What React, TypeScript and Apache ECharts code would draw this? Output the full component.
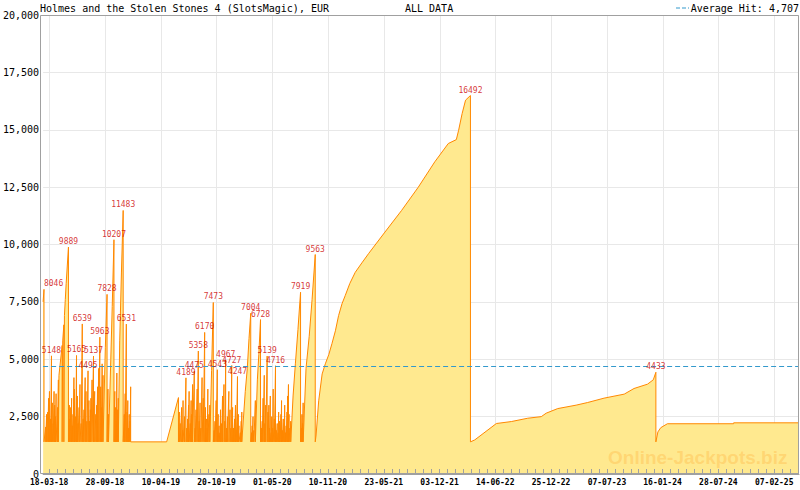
import React, { useEffect, useRef } from "react";
import * as echarts from "echarts";

const TITLE = "Holmes and the Stolen Stones 4 (SlotsMagic), EUR";
const PERIOD = "ALL DATA";
const AVERAGE_HIT = 4707;
const BASE_DATE = Date.UTC(2018, 1, 25); // day 0 of the x axis
const X_MAX_DAY = 2625;
const Y_MAX = 20000;

const xTickLabels = [
  "18-03-18", "28-09-18", "10-04-19", "20-10-19", "01-05-20", "10-11-20", "23-05-21",
  "03-12-21", "14-06-22", "25-12-22", "07-07-23", "16-01-24", "28-07-24", "07-02-25",
];

// jackpot value [day since 2018-02-25, EUR]
const jackpot2018: [number, number][] = [
  [0, 7500], [3, 8046], [3, 1400], [9, 2050], [9, 1400], [12, 2600], [12, 1400], [16, 2700], [16, 1400],
  [19, 3300], [19, 1400], [22, 3600], [22, 1400], [26, 2400], [26, 1400], [29, 5148], [29, 1400],
  [32, 3100], [32, 1400], [35, 2200], [35, 1400], [38, 3600], [38, 1400], [40, 3000], [40, 1400],
  [43, 2500], [43, 1400], [45, 3500], [45, 1400], [50, 2900], [50, 1400], [53, 4100], [53, 1400],
  [55, 4300], [66, 5600], [66, 1400], [68, 5800], [72, 6500], [72, 1400], [74, 6900],
  [77, 7600], [80, 8300], [88, 9889], [88, 1400], [91, 3000], [91, 1400], [93, 2400], [93, 1400],
  [96, 2900], [96, 1400], [99, 3300], [99, 1400],
  [101, 2100], [101, 1400], [104, 2600], [104, 1400], [107, 4200], [107, 1400], [109, 3700], [109, 1400],
  [113, 2500], [113, 1400], [116, 5165], [116, 1400], [119, 3400], [119, 1400], [121, 2200], [121, 1400],
  [125, 2900], [125, 1400], [128, 3900], [128, 1400], [132, 2200], [132, 1400], [136, 6539], [136, 1400],
  [139, 2400], [139, 1400], [142, 2800], [142, 1400], [146, 4200], [146, 1400], [149, 3600], [149, 1400],
  [152, 2300], [152, 1400], [156, 4495], [156, 1400], [159, 3200], [159, 1400], [161, 2300], [161, 1400],
  [164, 2800], [164, 1400], [166, 3300], [166, 1400], [170, 4100], [170, 1400], [175, 5137], [175, 1400],
  [179, 3600], [179, 1400], [183, 2600], [183, 1400], [186, 3000], [186, 1400], [189, 3800], [189, 1400],
  [193, 4600], [193, 1400], [197, 5963], [197, 1400], [200, 3800], [200, 1400], [202, 2900], [202, 1400],
  [205, 4800], [205, 1400], [208, 4300], [208, 1400], [216, 5500], [222, 7828], [222, 1400],
  [225, 3700], [225, 1400], [227, 2600], [227, 1400],
  [235, 5000], [240, 7300], [246, 10207], [246, 1400], [249, 3600], [249, 1400], [251, 2900], [251, 1400],
  [254, 2300], [254, 1400], [256, 4400], [256, 1400], [259, 2800], [259, 1400],
  [261, 3300], [261, 1400], [266, 5800], [272, 8800], [278, 11483], [278, 1400], [282, 2600], [282, 1400],
  [285, 3500], [285, 1400], [289, 6531], [289, 1400], [292, 2700], [292, 1400], [294, 3200], [294, 1400],
  [297, 2000], [297, 1400], [299, 2600], [299, 1400], [302, 2300], [302, 1400], [304, 3800], [304, 1400],
];

const jackpot2019: [number, number][] = [
  [429, 1400], [470, 3330], [470, 1400], [473, 2700], [473, 1400], [476, 2200], [476, 1400],
  [481, 2900], [481, 1400], [484, 1900], [484, 1400],
  [486, 3200], [486, 1400], [491, 2500], [491, 1400], [496, 4189], [496, 1400], [499, 2000], [499, 1400],
  [502, 2400], [502, 1400], [505, 3000], [505, 1400],
  [507, 3600], [507, 1400], [511, 2200], [511, 1400], [514, 3200], [514, 1400], [516, 2600], [516, 1400],
  [519, 3900], [519, 1400], [525, 4475], [525, 1400], [528, 2000], [528, 1400],
  [531, 2800], [531, 1400], [535, 3700], [535, 1400], [539, 5358], [539, 1400], [542, 2300], [542, 1400],
  [545, 3100], [545, 1400], [548, 2000], [548, 1400], [552, 4200], [552, 1400], [556, 3300], [556, 1400],
  [561, 6170], [561, 1400], [564, 2900], [564, 1400], [567, 2400], [567, 1400], [570, 2000], [570, 1400],
  [572, 3700], [572, 1400], [576, 2600], [576, 1400], [579, 3000], [579, 1400],
  [585, 4500], [591, 7473], [591, 1400], [594, 1900], [594, 1400], [597, 2300], [597, 1400],
  [601, 3200], [601, 1400], [605, 4543], [605, 1400], [608, 2600], [608, 1400],
  [611, 2100], [611, 1400], [614, 1800], [614, 1400], [616, 2800], [616, 1400], [620, 2200], [620, 1400],
  [623, 3400], [623, 1400], [628, 3900], [628, 1400], [631, 2300], [631, 1400], [634, 4967], [634, 1400],
  [637, 2000], [637, 1400], [640, 2500], [640, 1400], [645, 3600], [645, 1400], [649, 2800], [649, 1400],
  [652, 2000], [652, 1400], [655, 4727], [655, 1400], [658, 2900], [658, 1400], [661, 2000], [661, 1400],
  [665, 2400], [665, 1400], [668, 3000], [668, 1400], [671, 1900], [671, 1400],
  [675, 4247], [675, 1400], [678, 2600], [678, 1400], [680, 2100], [680, 1400], [685, 1800], [685, 1400],
  [688, 2300], [688, 1400], [690, 2700], [690, 1400], [702, 3600], [709, 4600], [715, 5900], [721, 7004], [721, 1400],
  [724, 1800], [724, 1400], [726, 2100], [726, 1400], [729, 2500], [729, 1400],
  [732, 1900], [732, 1400], [737, 3200], [737, 1400], [744, 4100], [749, 5200],
  [755, 6728], [755, 1400], [758, 2000], [758, 1400], [761, 2300], [761, 1400], [764, 3300], [764, 1400],
  [768, 4300], [768, 1400], [770, 2200], [770, 1400], [773, 3000], [773, 1400],
  [778, 5139], [778, 1400], [781, 2700], [781, 1400], [784, 3000], [784, 1400], [786, 2000], [786, 1400],
  [789, 3400], [789, 1400], [792, 1800], [792, 1400], [794, 2500], [794, 1400], [797, 2000], [797, 1400],
  [799, 3700], [799, 1400], [803, 2400], [803, 1400], [807, 4716], [807, 1400], [810, 1900], [810, 1400],
  [813, 2200], [813, 1400], [816, 1800], [816, 1400], [818, 2700], [818, 1400], [821, 2300], [821, 1400],
  [823, 2000], [823, 1400], [826, 2600], [826, 1400], [828, 3200], [828, 1400], [831, 1900], [831, 1400],
  [834, 2400], [834, 1400], [837, 2200], [837, 1400], [839, 3000], [839, 1400], [842, 1800], [842, 1400],
  [844, 2100], [844, 1400], [847, 2700], [847, 1400], [849, 3400], [849, 1400], [852, 3900], [852, 1400],
  [854, 2600], [854, 1400], [857, 2000], [857, 1400], [860, 2300], [860, 1400],
  [868, 3400], [876, 4800], [885, 6300], [894, 7919], [894, 1400], [897, 2000], [897, 1400],
  [899, 2600], [899, 1400], [901, 2200], [901, 1400],
  [903, 3100], [903, 1400], [913, 4600], [924, 6000], [934, 7600], [945, 9563], [945, 1400],
];

const jackpot2021: [number, number][] = [
  [948, 1700], [957, 3190], [969, 4360], [980, 4800], [992, 5200], [1003, 5680], [1015, 6240],
  [1026, 6900], [1038, 7420], [1049, 7770], [1065, 8300], [1084, 8790], [1107, 9200], [1130, 9600],
  [1187, 10540], [1245, 11485], [1303, 12500], [1360, 13600], [1407, 14400], [1435, 14570],
  [1443, 14980], [1455, 15700], [1467, 16290], [1484, 16492], [1484, 1400],
];

const jackpot2022: [number, number][] = [
  [1499, 1485], [1574, 2200], [1626, 2285], [1683, 2430], [1730, 2500], [1747, 2650], [1787, 2850],
  [1851, 3000], [1891, 3115], [1948, 3305], [2018, 3480], [2052, 3725], [2099, 3915], [2119, 4105],
  [2128, 4433], [2128, 1400],
];

const jackpot2024: [number, number][] = [
  [2135, 1834], [2145, 2020], [2168, 2190], [2398, 2190], [2398, 2230], [2625, 2230],
];

const labeledPeaks = [
  8046, 5148, 9889, 5165, 6539, 4495, 5137, 5963, 7828, 10207, 11483, 6531,
  4189, 4475, 5358, 6170, 7473, 4543, 4967, 4727, 4247, 7004, 6728, 5139, 4716, 7919, 9563,
  16492, 4433,
];

const MONO = '"DejaVu Sans Mono", monospace';

function labelDay(s: string): number {
  const [d, m, y] = s.split("-").map(Number);
  return Math.round((Date.UTC(2000 + y, m - 1, d) - BASE_DATE) / 86400000);
}

export default function App() {
  const ref = useRef<HTMLDivElement>(null);

  useEffect(() => {
    document.body.style.margin = "0";
    if (!ref.current) return;
    const chart = echarts.init(ref.current, undefined, { renderer: "svg" });

    const points = [...jackpot2018, ...jackpot2019, ...jackpot2021, ...jackpot2022, ...jackpot2024];
    const labelDays = xTickLabels.map(labelDay);
    const tickDays: number[] = [];
    for (let i = 0; i < labelDays.length - 1; i++) {
      const step = (labelDays[i + 1] - labelDays[i]) / 7;
      for (let k = 0; k < 7; k++) tickDays.push(labelDays[i] + k * step);
    }
    const lastStep = (labelDays[labelDays.length - 1] - labelDays[labelDays.length - 2]) / 7;
    for (let t = labelDays[labelDays.length - 1]; t <= X_MAX_DAY; t += lastStep) tickDays.push(t);

    const peakSet = new Set(labeledPeaks);
    const peakData = points
      .filter((p) => peakSet.has(p[1]))
      .map((p) =>
        p[0] < 15
          ? { value: p, label: { align: "left" as const } }
          : { value: p }
      );

    chart.setOption({
      animation: false,
      grid: { left: 40, right: 1, top: 15, bottom: 16, containLabel: false },
      xAxis: {
        type: "value",
        min: 0,
        max: X_MAX_DAY,
        z: 5,
        axisLine: { show: true, lineStyle: { color: "#a0a0a0", width: 1 } },
        axisTick: {
          show: true,
          inside: true,
          length: 5,
          customValues: tickDays,
          lineStyle: { color: "#a0a0a0", width: 1 },
        },
        axisLabel: {
          show: true,
          customValues: labelDays,
          formatter: (v: number) => {
            const i = labelDays.findIndex((d) => Math.abs(d - v) < 0.01);
            return i >= 0 ? xTickLabels[i] : "";
          },
          fontFamily: MONO,
          fontSize: 8,
          fontWeight: "bold",
          color: "#000",
          margin: 4,
        },
        splitLine: { show: false },
      },
      yAxis: {
        type: "value",
        min: 0,
        max: Y_MAX,
        interval: 2500,
        axisLine: { show: false },
        axisTick: { show: false },
        axisLabel: {
          fontFamily: MONO,
          fontSize: 10,
          color: "#000",
          margin: 4,
          formatter: (v: number) => v.toLocaleString("en-US"),
        },
        splitLine: { show: true, lineStyle: { color: "#e8e8e8", width: 1 } },
      },
      series: [
        {
          type: "custom",
          name: "vgrid",
          data: labelDays.map((d) => [d]),
          encode: { x: 0 },
          z: 1,
          silent: true,
          clip: true,
          renderItem: (_params: any, api: any) => {
            const bottom = api.coord([api.value(0), 0]);
            const top = api.coord([api.value(0), Y_MAX]);
            const x = Math.round(bottom[0]) + 0.5;
            return {
              type: "line",
              shape: { x1: x, y1: top[1], x2: x, y2: bottom[1] },
              style: { stroke: "#e8e8e8", lineWidth: 1 },
            };
          },
        },
        {
          type: "line",
          name: "jackpot",
          data: points,
          z: 2,
          showSymbol: false,
          symbol: "none",
          silent: true,
          lineStyle: { color: "#ff8800", width: 1 },
          areaStyle: { color: "#ffe98f", opacity: 1 },
          markLine: {
            silent: true,
            symbol: ["none", "none"],
            label: { show: false },
            lineStyle: { color: "#3399cc", type: [5, 3], width: 1 },
            data: [{ yAxis: AVERAGE_HIT }],
          },
        },
        {
          type: "scatter",
          name: "peaks",
          data: peakData,
          z: 6,
          symbol: "circle",
          symbolSize: 1,
          silent: true,
          itemStyle: { color: "rgba(0,0,0,0)" },
          label: {
            show: true,
            position: "top",
            distance: 1,
            formatter: (p: any) => String(p.value[1]),
            color: "#cc0000",
            fontFamily: MONO,
            fontSize: 8,
          },
        },
      ],
      graphic: [
        {
          type: "rect",
          z: 50,
          silent: true,
          shape: { x: 40.5, y: 15.5, width: 758, height: 458 },
          style: { fill: "none", stroke: "#a0a0a0", lineWidth: 1 },
        },
        {
          type: "text",
          x: 40,
          y: 8,
          z: 50,
          style: { text: TITLE, font: `10px ${MONO}`, fill: "#000", textVerticalAlign: "middle" },
        },
        {
          type: "text",
          x: 405,
          y: 8,
          z: 50,
          style: { text: PERIOD, font: `10px ${MONO}`, fill: "#000", textVerticalAlign: "middle" },
        },
        {
          type: "line",
          z: 50,
          shape: { x1: 676, y1: 8, x2: 689, y2: 8 },
          style: { stroke: "#3399cc", lineWidth: 1, lineDash: [4, 2] },
        },
        {
          type: "text",
          x: 799,
          y: 8,
          z: 50,
          style: {
            text: `Average Hit: ${AVERAGE_HIT.toLocaleString("en-US")}`,
            font: `10px ${MONO}`,
            fill: "#000",
            textAlign: "right",
            textVerticalAlign: "middle",
          },
        },
        {
          type: "text",
          x: 608,
          y: 457,
          z: 40,
          silent: true,
          style: {
            text: "Online-Jackpots.biz",
            font: 'bold 19px "Liberation Sans", Arial, sans-serif',
            fill: "rgba(255,190,80,0.45)",
            textVerticalAlign: "middle",
          },
        },
      ],
    });

    return () => chart.dispose();
  }, []);

  return <div ref={ref} style={{ width: 800, height: 490 }} />;
}
